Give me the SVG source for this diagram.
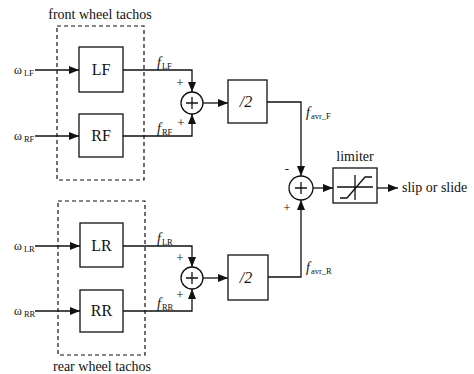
<svg xmlns="http://www.w3.org/2000/svg" width="474" height="374" viewBox="0 0 474 374">
<style>
.ln{fill:none;stroke:#111;stroke-width:1.3}
.bx{fill:#fff;stroke:#111;stroke-width:1.3}
.dash{fill:none;stroke:#111;stroke-width:1.2;stroke-dasharray:4,3}
.t{font-family:"Liberation Serif",serif;fill:#111}
.big{font-size:16px}
.lab{font-size:14px}
.sm{font-size:12px}
.pl{font-size:13px}
.sub{font-size:8.5px}
.it{font-style:italic}
</style>
<defs>
<marker id="ah" markerWidth="10" markerHeight="8" refX="10" refY="4" orient="auto" markerUnits="userSpaceOnUse">
<path d="M0,0 L10,4 L0,8 Z" fill="#111"/>
</marker>
</defs>
<rect width="474" height="374" fill="#fff"/>

<g id="front_group">
<rect class="dash" x="57" y="26" width="87" height="154"/>
<text class="t lab" x="100" y="19" text-anchor="middle">front wheel tachos</text>
</g>
<g id="rear_group">
<rect class="dash" x="58" y="201" width="87" height="154"/>
<text class="t lab" x="102" y="371" text-anchor="middle">rear wheel tachos</text>
</g>

<g id="connectors">
<path class="ln" d="M35,70 H79" marker-end="url(#ah)"/>
<path class="ln" d="M35,136 H79" marker-end="url(#ah)"/>
<path class="ln" d="M35,246 H80" marker-end="url(#ah)"/>
<path class="ln" d="M35,311 H80" marker-end="url(#ah)"/>
<path class="ln" d="M123,70 H192 V92" marker-end="url(#ah)"/>
<path class="ln" d="M123,136 H192 V114" marker-end="url(#ah)"/>
<path class="ln" d="M123,246 H192 V267" marker-end="url(#ah)"/>
<path class="ln" d="M123,311 H192 V289" marker-end="url(#ah)"/>
<path class="ln" d="M203,103 H228" marker-end="url(#ah)"/>
<path class="ln" d="M203,278 H228" marker-end="url(#ah)"/>
<path class="ln" d="M267,102 H301 V176" marker-end="url(#ah)"/>
<path class="ln" d="M268,277 H301 V200" marker-end="url(#ah)"/>
<path class="ln" d="M313,188 H333" marker-end="url(#ah)"/>
<path class="ln" d="M377,188 H398" marker-end="url(#ah)"/>
</g>

<g id="in_LF"><text class="t sm" x="14" y="74">ω<tspan class="sub" dx="2" dy="2">LF</tspan></text></g>
<g id="in_RF"><text class="t sm" x="14" y="140">ω<tspan class="sub" dx="2" dy="2">RF</tspan></text></g>
<g id="in_LR"><text class="t sm" x="14" y="250">ω<tspan class="sub" dx="2" dy="2">LR</tspan></text></g>
<g id="in_RR"><text class="t sm" x="14" y="315">ω<tspan class="sub" dx="2" dy="2">RR</tspan></text></g>

<g id="LF"><rect class="bx" x="79" y="47" width="44" height="45"/><text class="t big" x="101" y="75" text-anchor="middle">LF</text></g>
<g id="RF"><rect class="bx" x="79" y="114" width="44" height="43"/><text class="t big" x="101" y="141" text-anchor="middle">RF</text></g>
<g id="LR"><rect class="bx" x="80" y="223" width="43" height="44"/><text class="t big" x="101.5" y="251" text-anchor="middle">LR</text></g>
<g id="RR"><rect class="bx" x="80" y="290" width="43" height="42"/><text class="t big" x="101.5" y="316" text-anchor="middle">RR</text></g>

<g id="lab_fLF"><text class="t lab" x="157" y="67"><tspan class="it">f</tspan><tspan class="sub" dx="1" dy="2">LF</tspan></text></g>
<g id="lab_fRF"><text class="t lab" x="157" y="133"><tspan class="it">f</tspan><tspan class="sub" dx="1" dy="2">RF</tspan></text></g>
<g id="lab_fLR"><text class="t lab" x="157" y="243"><tspan class="it">f</tspan><tspan class="sub" dx="1" dy="2">LR</tspan></text></g>
<g id="lab_fRR"><text class="t lab" x="157" y="308"><tspan class="it">f</tspan><tspan class="sub" dx="1" dy="2">RR</tspan></text></g>

<g id="sum1">
<circle class="bx" cx="192" cy="103" r="11"/>
<path class="ln" d="M186,103 H198 M192,97 V109"/>
<text class="t pl" x="180" y="87" text-anchor="middle">+</text>
<text class="t pl" x="181" y="127" text-anchor="middle">+</text>
</g>
<g id="sum3">
<circle class="bx" cx="192" cy="278" r="11"/>
<path class="ln" d="M186,278 H198 M192,272 V284"/>
<text class="t pl" x="180" y="262" text-anchor="middle">+</text>
<text class="t pl" x="180" y="299" text-anchor="middle">+</text>
</g>

<g id="half_F"><rect class="bx" x="228" y="80" width="39" height="43"/><text class="t big it" x="246" y="107" text-anchor="middle">/2</text></g>
<g id="half_R"><rect class="bx" x="228" y="255" width="40" height="45"/><text class="t big it" x="246" y="283" text-anchor="middle">/2</text></g>

<g id="lab_favrF"><text class="t lab" x="306" y="117"><tspan class="it">f</tspan><tspan class="sub" dx="1" dy="2">avr_F</tspan></text></g>
<g id="lab_favrR"><text class="t lab" x="306" y="272"><tspan class="it">f</tspan><tspan class="sub" dx="1" dy="2">avr_R</tspan></text></g>

<g id="sum2">
<circle class="bx" cx="301" cy="188" r="12"/>
<path class="ln" d="M295,188 H307 M301,182 V194"/>
<text class="t pl" x="287" y="173" text-anchor="middle">-</text>
<text class="t pl" x="287" y="212" text-anchor="middle">+</text>
</g>

<g id="limiter">
<rect class="bx" x="333" y="168" width="44" height="35"/>
<path class="ln" d="M337,187 H373 M355,175 V200"/>
<path class="ln" d="M340,198 H347 L365,177 H372"/>
<text class="t lab" x="355" y="161" text-anchor="middle">limiter</text>
</g>

<g id="out"><text class="t lab" x="402" y="192">slip or slide</text></g>
</svg>
